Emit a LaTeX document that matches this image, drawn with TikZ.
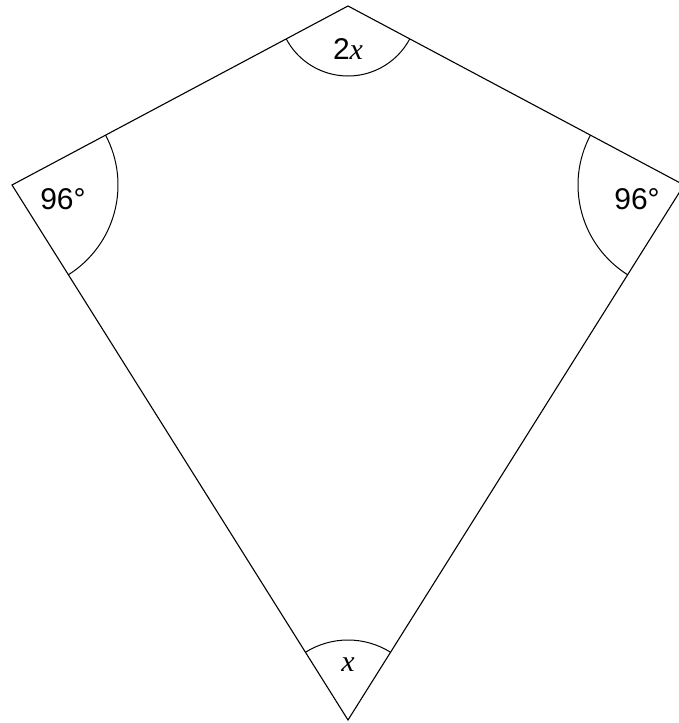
\documentclass[tikz,border=0pt]{standalone}
\usepackage{fontspec}
\setmainfont{Liberation Sans}
\newfontfamily\letterfont{Liberation Serif}
\usetikzlibrary{angles}
\newcommand{\varx}{{\letterfont\itshape x}}

\begin{document}
\begin{tikzpicture}[
  x=1pt,y=1pt,
  edge/.style={line width=1.1pt,line join=miter},
  arcmark/.style={draw,line width=1pt},
  anglelabel/.style={font=\fontsize{30}{36}\selectfont,inner sep=0pt}
]
  \useasboundingbox (0,0) rectangle (678,723);
  % kite corners
  \coordinate (top) at (348,717);
  \coordinate (left) at (12,538);
  \coordinate (right) at (684,538);
  \coordinate (bottom) at (348,3);
  \draw[edge] (top) -- (right) -- (bottom) -- (left) -- cycle;
  % angle arcs
  \pic[arcmark,angle radius=70pt] {angle=left--top--right};
  \pic[arcmark,angle radius=106pt] {angle=bottom--left--top};
  \pic[arcmark,angle radius=106pt] {angle=top--right--bottom};
  \pic[arcmark,angle radius=80pt] {angle=right--bottom--left};
  % labels
  \node[anglelabel] (toplabel) at (348,674) {2\varx};
  \node[anglelabel] (leftlabel) at (63,524) {96°};
  \node[anglelabel] (rightlabel) at (637,524) {96°};
  \node[anglelabel] (bottomlabel) at (348,58) {\varx};
\end{tikzpicture}
\end{document}
